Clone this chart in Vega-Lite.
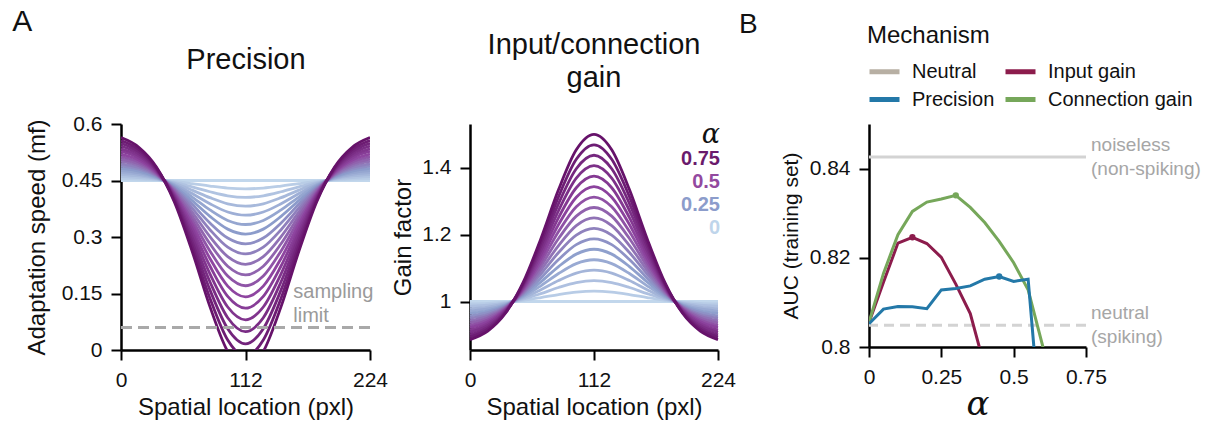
{
"$schema": "https://vega.github.io/schema/vega-lite/v6.json",
"background": "white",
"padding": {"left": 12, "top": 7, "right": 0, "bottom": 0},
"spacing": 3,
"resolve": {"scale": {"color": "independent", "x": "independent", "y": "independent"}, "legend": {"color": "independent"}},
"datasets": {
"prec": [
{"a":0,"x":0,"y":0.45},{"a":0,"x":16,"y":0.45},{"a":0,"x":32,"y":0.45},{"a":0,"x":48,"y":0.45},{"a":0,"x":64,"y":0.45},{"a":0,"x":80,"y":0.45},{"a":0,"x":96,"y":0.45},{"a":0,"x":112,"y":0.45},{"a":0,"x":128,"y":0.45},{"a":0,"x":144,"y":0.45},{"a":0,"x":160,"y":0.45},{"a":0,"x":176,"y":0.45},{"a":0,"x":192,"y":0.45},{"a":0,"x":208,"y":0.45},{"a":0,"x":224,"y":0.45},
{"a":0.0417,"x":0,"y":0.455},{"a":0.0417,"x":16,"y":0.4539},{"a":0.0417,"x":32,"y":0.4516},{"a":0.0417,"x":48,"y":0.4475},{"a":0.0417,"x":64,"y":0.4417},{"a":0.0417,"x":80,"y":0.4353},{"a":0.0417,"x":96,"y":0.43},{"a":0.0417,"x":112,"y":0.428},{"a":0.0417,"x":128,"y":0.43},{"a":0.0417,"x":144,"y":0.4353},{"a":0.0417,"x":160,"y":0.4417},{"a":0.0417,"x":176,"y":0.4475},{"a":0.0417,"x":192,"y":0.4516},{"a":0.0417,"x":208,"y":0.4539},{"a":0.0417,"x":224,"y":0.455},
{"a":0.0833,"x":0,"y":0.4602},{"a":0.0833,"x":16,"y":0.4579},{"a":0.0833,"x":32,"y":0.4532},{"a":0.0833,"x":48,"y":0.4449},{"a":0.0833,"x":64,"y":0.4332},{"a":0.0833,"x":80,"y":0.4201},{"a":0.0833,"x":96,"y":0.4094},{"a":0.0833,"x":112,"y":0.4053},{"a":0.0833,"x":128,"y":0.4094},{"a":0.0833,"x":144,"y":0.4201},{"a":0.0833,"x":160,"y":0.4332},{"a":0.0833,"x":176,"y":0.4449},{"a":0.0833,"x":192,"y":0.4532},{"a":0.0833,"x":208,"y":0.4579},{"a":0.0833,"x":224,"y":0.4602},
{"a":0.125,"x":0,"y":0.4655},{"a":0.125,"x":16,"y":0.462},{"a":0.125,"x":32,"y":0.4548},{"a":0.125,"x":48,"y":0.4422},{"a":0.125,"x":64,"y":0.4244},{"a":0.125,"x":80,"y":0.4044},{"a":0.125,"x":96,"y":0.3882},{"a":0.125,"x":112,"y":0.3819},{"a":0.125,"x":128,"y":0.3882},{"a":0.125,"x":144,"y":0.4044},{"a":0.125,"x":160,"y":0.4244},{"a":0.125,"x":176,"y":0.4422},{"a":0.125,"x":192,"y":0.4548},{"a":0.125,"x":208,"y":0.462},{"a":0.125,"x":224,"y":0.4655},
{"a":0.1667,"x":0,"y":0.471},{"a":0.1667,"x":16,"y":0.4663},{"a":0.1667,"x":32,"y":0.4565},{"a":0.1667,"x":48,"y":0.4395},{"a":0.1667,"x":64,"y":0.4154},{"a":0.1667,"x":80,"y":0.3883},{"a":0.1667,"x":96,"y":0.3664},{"a":0.1667,"x":112,"y":0.3579},{"a":0.1667,"x":128,"y":0.3664},{"a":0.1667,"x":144,"y":0.3883},{"a":0.1667,"x":160,"y":0.4154},{"a":0.1667,"x":176,"y":0.4395},{"a":0.1667,"x":192,"y":0.4565},{"a":0.1667,"x":208,"y":0.4663},{"a":0.1667,"x":224,"y":0.471},
{"a":0.2083,"x":0,"y":0.4766},{"a":0.2083,"x":16,"y":0.4707},{"a":0.2083,"x":32,"y":0.4582},{"a":0.2083,"x":48,"y":0.4367},{"a":0.2083,"x":64,"y":0.4061},{"a":0.2083,"x":80,"y":0.3718},{"a":0.2083,"x":96,"y":0.344},{"a":0.2083,"x":112,"y":0.3332},{"a":0.2083,"x":128,"y":0.344},{"a":0.2083,"x":144,"y":0.3718},{"a":0.2083,"x":160,"y":0.4061},{"a":0.2083,"x":176,"y":0.4367},{"a":0.2083,"x":192,"y":0.4582},{"a":0.2083,"x":208,"y":0.4707},{"a":0.2083,"x":224,"y":0.4766},
{"a":0.25,"x":0,"y":0.4824},{"a":0.25,"x":16,"y":0.4751},{"a":0.25,"x":32,"y":0.46},{"a":0.25,"x":48,"y":0.4338},{"a":0.25,"x":64,"y":0.3965},{"a":0.25,"x":80,"y":0.3548},{"a":0.25,"x":96,"y":0.3209},{"a":0.25,"x":112,"y":0.3078},{"a":0.25,"x":128,"y":0.3209},{"a":0.25,"x":144,"y":0.3548},{"a":0.25,"x":160,"y":0.3965},{"a":0.25,"x":176,"y":0.4338},{"a":0.25,"x":192,"y":0.46},{"a":0.25,"x":208,"y":0.4751},{"a":0.25,"x":224,"y":0.4824},
{"a":0.2917,"x":0,"y":0.4883},{"a":0.2917,"x":16,"y":0.4798},{"a":0.2917,"x":32,"y":0.4619},{"a":0.2917,"x":48,"y":0.4308},{"a":0.2917,"x":64,"y":0.3867},{"a":0.2917,"x":80,"y":0.3373},{"a":0.2917,"x":96,"y":0.2972},{"a":0.2917,"x":112,"y":0.2817},{"a":0.2917,"x":128,"y":0.2972},{"a":0.2917,"x":144,"y":0.3373},{"a":0.2917,"x":160,"y":0.3867},{"a":0.2917,"x":176,"y":0.4308},{"a":0.2917,"x":192,"y":0.4619},{"a":0.2917,"x":208,"y":0.4798},{"a":0.2917,"x":224,"y":0.4883},
{"a":0.3333,"x":0,"y":0.4944},{"a":0.3333,"x":16,"y":0.4845},{"a":0.3333,"x":32,"y":0.4637},{"a":0.3333,"x":48,"y":0.4278},{"a":0.3333,"x":64,"y":0.3767},{"a":0.3333,"x":80,"y":0.3194},{"a":0.3333,"x":96,"y":0.273},{"a":0.3333,"x":112,"y":0.255},{"a":0.3333,"x":128,"y":0.273},{"a":0.3333,"x":144,"y":0.3194},{"a":0.3333,"x":160,"y":0.3767},{"a":0.3333,"x":176,"y":0.4278},{"a":0.3333,"x":192,"y":0.4637},{"a":0.3333,"x":208,"y":0.4845},{"a":0.3333,"x":224,"y":0.4944},
{"a":0.375,"x":0,"y":0.5007},{"a":0.375,"x":16,"y":0.4893},{"a":0.375,"x":32,"y":0.4657},{"a":0.375,"x":48,"y":0.4246},{"a":0.375,"x":64,"y":0.3663},{"a":0.375,"x":80,"y":0.301},{"a":0.375,"x":96,"y":0.248},{"a":0.375,"x":112,"y":0.2275},{"a":0.375,"x":128,"y":0.248},{"a":0.375,"x":144,"y":0.301},{"a":0.375,"x":160,"y":0.3663},{"a":0.375,"x":176,"y":0.4246},{"a":0.375,"x":192,"y":0.4657},{"a":0.375,"x":208,"y":0.4893},{"a":0.375,"x":224,"y":0.5007},
{"a":0.4167,"x":0,"y":0.5071},{"a":0.4167,"x":16,"y":0.4943},{"a":0.4167,"x":32,"y":0.4677},{"a":0.4167,"x":48,"y":0.4214},{"a":0.4167,"x":64,"y":0.3558},{"a":0.4167,"x":80,"y":0.2822},{"a":0.4167,"x":96,"y":0.2225},{"a":0.4167,"x":112,"y":0.1994},{"a":0.4167,"x":128,"y":0.2225},{"a":0.4167,"x":144,"y":0.2822},{"a":0.4167,"x":160,"y":0.3558},{"a":0.4167,"x":176,"y":0.4214},{"a":0.4167,"x":192,"y":0.4677},{"a":0.4167,"x":208,"y":0.4943},{"a":0.4167,"x":224,"y":0.5071},
{"a":0.4583,"x":0,"y":0.5136},{"a":0.4583,"x":16,"y":0.4994},{"a":0.4583,"x":32,"y":0.4697},{"a":0.4583,"x":48,"y":0.4181},{"a":0.4583,"x":64,"y":0.3449},{"a":0.4583,"x":80,"y":0.2629},{"a":0.4583,"x":96,"y":0.1964},{"a":0.4583,"x":112,"y":0.1706},{"a":0.4583,"x":128,"y":0.1964},{"a":0.4583,"x":144,"y":0.2629},{"a":0.4583,"x":160,"y":0.3449},{"a":0.4583,"x":176,"y":0.4181},{"a":0.4583,"x":192,"y":0.4697},{"a":0.4583,"x":208,"y":0.4994},{"a":0.4583,"x":224,"y":0.5136},
{"a":0.5,"x":0,"y":0.5203},{"a":0.5,"x":16,"y":0.5046},{"a":0.5,"x":32,"y":0.4718},{"a":0.5,"x":48,"y":0.4148},{"a":0.5,"x":64,"y":0.3339},{"a":0.5,"x":80,"y":0.2431},{"a":0.5,"x":96,"y":0.1696},{"a":0.5,"x":112,"y":0.1411},{"a":0.5,"x":128,"y":0.1696},{"a":0.5,"x":144,"y":0.2431},{"a":0.5,"x":160,"y":0.3339},{"a":0.5,"x":176,"y":0.4148},{"a":0.5,"x":192,"y":0.4718},{"a":0.5,"x":208,"y":0.5046},{"a":0.5,"x":224,"y":0.5203},
{"a":0.5417,"x":0,"y":0.5272},{"a":0.5417,"x":16,"y":0.5099},{"a":0.5417,"x":32,"y":0.4739},{"a":0.5417,"x":48,"y":0.4113},{"a":0.5417,"x":64,"y":0.3225},{"a":0.5417,"x":80,"y":0.223},{"a":0.5417,"x":96,"y":0.1423},{"a":0.5417,"x":112,"y":0.111},{"a":0.5417,"x":128,"y":0.1423},{"a":0.5417,"x":144,"y":0.223},{"a":0.5417,"x":160,"y":0.3225},{"a":0.5417,"x":176,"y":0.4113},{"a":0.5417,"x":192,"y":0.4739},{"a":0.5417,"x":208,"y":0.5099},{"a":0.5417,"x":224,"y":0.5272},
{"a":0.5833,"x":0,"y":0.5342},{"a":0.5833,"x":16,"y":0.5154},{"a":0.5833,"x":32,"y":0.4761},{"a":0.5833,"x":48,"y":0.4078},{"a":0.5833,"x":64,"y":0.3109},{"a":0.5833,"x":80,"y":0.2023},{"a":0.5833,"x":96,"y":0.1142},{"a":0.5833,"x":112,"y":0.0801},{"a":0.5833,"x":128,"y":0.1142},{"a":0.5833,"x":144,"y":0.2023},{"a":0.5833,"x":160,"y":0.3109},{"a":0.5833,"x":176,"y":0.4078},{"a":0.5833,"x":192,"y":0.4761},{"a":0.5833,"x":208,"y":0.5154},{"a":0.5833,"x":224,"y":0.5342},
{"a":0.625,"x":0,"y":0.5414},{"a":0.625,"x":16,"y":0.521},{"a":0.625,"x":32,"y":0.4783},{"a":0.625,"x":48,"y":0.4042},{"a":0.625,"x":64,"y":0.2991},{"a":0.625,"x":80,"y":0.1812},{"a":0.625,"x":96,"y":0.0856},{"a":0.625,"x":112,"y":0.0486},{"a":0.625,"x":128,"y":0.0856},{"a":0.625,"x":144,"y":0.1812},{"a":0.625,"x":160,"y":0.2991},{"a":0.625,"x":176,"y":0.4042},{"a":0.625,"x":192,"y":0.4783},{"a":0.625,"x":208,"y":0.521},{"a":0.625,"x":224,"y":0.5414},
{"a":0.6667,"x":0,"y":0.5487},{"a":0.6667,"x":16,"y":0.5267},{"a":0.6667,"x":32,"y":0.4806},{"a":0.6667,"x":48,"y":0.4005},{"a":0.6667,"x":64,"y":0.287},{"a":0.6667,"x":80,"y":0.1596},{"a":0.6667,"x":96,"y":0.0564},{"a":0.6667,"x":112,"y":0.0164},{"a":0.6667,"x":128,"y":0.0564},{"a":0.6667,"x":144,"y":0.1596},{"a":0.6667,"x":160,"y":0.287},{"a":0.6667,"x":176,"y":0.4005},{"a":0.6667,"x":192,"y":0.4806},{"a":0.6667,"x":208,"y":0.5267},{"a":0.6667,"x":224,"y":0.5487},
{"a":0.7083,"x":0,"y":0.5562},{"a":0.7083,"x":16,"y":0.5325},{"a":0.7083,"x":32,"y":0.4829},{"a":0.7083,"x":48,"y":0.3968},{"a":0.7083,"x":64,"y":0.2746},{"a":0.7083,"x":80,"y":0.1376},{"a":0.7083,"x":96,"y":0.0265},{"a":0.7083,"x":112,"y":-0.0165},{"a":0.7083,"x":128,"y":0.0265},{"a":0.7083,"x":144,"y":0.1376},{"a":0.7083,"x":160,"y":0.2746},{"a":0.7083,"x":176,"y":0.3968},{"a":0.7083,"x":192,"y":0.4829},{"a":0.7083,"x":208,"y":0.5325},{"a":0.7083,"x":224,"y":0.5562},
{"a":0.75,"x":0,"y":0.5639},{"a":0.75,"x":16,"y":0.5384},{"a":0.75,"x":32,"y":0.4853},{"a":0.75,"x":48,"y":0.393},{"a":0.75,"x":64,"y":0.262},{"a":0.75,"x":80,"y":0.1152},{"a":0.75,"x":96,"y":-0.0039},{"a":0.75,"x":112,"y":-0.05},{"a":0.75,"x":128,"y":-0.0039},{"a":0.75,"x":144,"y":0.1152},{"a":0.75,"x":160,"y":0.262},{"a":0.75,"x":176,"y":0.393},{"a":0.75,"x":192,"y":0.4853},{"a":0.75,"x":208,"y":0.5384},{"a":0.75,"x":224,"y":0.5639}
],
"gain": [
{"a":0,"x":0,"y":1},{"a":0,"x":16,"y":1},{"a":0,"x":32,"y":1},{"a":0,"x":48,"y":1},{"a":0,"x":64,"y":1},{"a":0,"x":80,"y":1},{"a":0,"x":96,"y":1},{"a":0,"x":112,"y":1},{"a":0,"x":128,"y":1},{"a":0,"x":144,"y":1},{"a":0,"x":160,"y":1},{"a":0,"x":176,"y":1},{"a":0,"x":192,"y":1},{"a":0,"x":208,"y":1},{"a":0,"x":224,"y":1},
{"a":0.0469,"x":0,"y":0.9929},{"a":0.0469,"x":16,"y":0.9945},{"a":0.0469,"x":32,"y":0.9978},{"a":0.0469,"x":48,"y":1.0036},{"a":0.0469,"x":64,"y":1.0118},{"a":0.0469,"x":80,"y":1.0209},{"a":0.0469,"x":96,"y":1.0284},{"a":0.0469,"x":112,"y":1.0313},{"a":0.0469,"x":128,"y":1.0284},{"a":0.0469,"x":144,"y":1.0209},{"a":0.0469,"x":160,"y":1.0118},{"a":0.0469,"x":176,"y":1.0036},{"a":0.0469,"x":192,"y":0.9978},{"a":0.0469,"x":208,"y":0.9945},{"a":0.0469,"x":224,"y":0.9929},
{"a":0.0938,"x":0,"y":0.9858},{"a":0.0938,"x":16,"y":0.989},{"a":0.0938,"x":32,"y":0.9956},{"a":0.0938,"x":48,"y":1.0071},{"a":0.0938,"x":64,"y":1.0235},{"a":0.0938,"x":80,"y":1.0419},{"a":0.0938,"x":96,"y":1.0567},{"a":0.0938,"x":112,"y":1.0625},{"a":0.0938,"x":128,"y":1.0567},{"a":0.0938,"x":144,"y":1.0419},{"a":0.0938,"x":160,"y":1.0235},{"a":0.0938,"x":176,"y":1.0071},{"a":0.0938,"x":192,"y":0.9956},{"a":0.0938,"x":208,"y":0.989},{"a":0.0938,"x":224,"y":0.9858},
{"a":0.1406,"x":0,"y":0.9787},{"a":0.1406,"x":16,"y":0.9834},{"a":0.1406,"x":32,"y":0.9934},{"a":0.1406,"x":48,"y":1.0107},{"a":0.1406,"x":64,"y":1.0353},{"a":0.1406,"x":80,"y":1.0628},{"a":0.1406,"x":96,"y":1.0851},{"a":0.1406,"x":112,"y":1.0938},{"a":0.1406,"x":128,"y":1.0851},{"a":0.1406,"x":144,"y":1.0628},{"a":0.1406,"x":160,"y":1.0353},{"a":0.1406,"x":176,"y":1.0107},{"a":0.1406,"x":192,"y":0.9934},{"a":0.1406,"x":208,"y":0.9834},{"a":0.1406,"x":224,"y":0.9787},
{"a":0.1875,"x":0,"y":0.9715},{"a":0.1875,"x":16,"y":0.9779},{"a":0.1875,"x":32,"y":0.9912},{"a":0.1875,"x":48,"y":1.0143},{"a":0.1875,"x":64,"y":1.047},{"a":0.1875,"x":80,"y":1.0837},{"a":0.1875,"x":96,"y":1.1135},{"a":0.1875,"x":112,"y":1.125},{"a":0.1875,"x":128,"y":1.1135},{"a":0.1875,"x":144,"y":1.0837},{"a":0.1875,"x":160,"y":1.047},{"a":0.1875,"x":176,"y":1.0143},{"a":0.1875,"x":192,"y":0.9912},{"a":0.1875,"x":208,"y":0.9779},{"a":0.1875,"x":224,"y":0.9715},
{"a":0.2344,"x":0,"y":0.9644},{"a":0.2344,"x":16,"y":0.9724},{"a":0.2344,"x":32,"y":0.989},{"a":0.2344,"x":48,"y":1.0178},{"a":0.2344,"x":64,"y":1.0588},{"a":0.2344,"x":80,"y":1.1046},{"a":0.2344,"x":96,"y":1.1418},{"a":0.2344,"x":112,"y":1.1563},{"a":0.2344,"x":128,"y":1.1418},{"a":0.2344,"x":144,"y":1.1046},{"a":0.2344,"x":160,"y":1.0588},{"a":0.2344,"x":176,"y":1.0178},{"a":0.2344,"x":192,"y":0.989},{"a":0.2344,"x":208,"y":0.9724},{"a":0.2344,"x":224,"y":0.9644},
{"a":0.2813,"x":0,"y":0.9573},{"a":0.2813,"x":16,"y":0.9669},{"a":0.2813,"x":32,"y":0.9868},{"a":0.2813,"x":48,"y":1.0214},{"a":0.2813,"x":64,"y":1.0705},{"a":0.2813,"x":80,"y":1.1256},{"a":0.2813,"x":96,"y":1.1702},{"a":0.2813,"x":112,"y":1.1875},{"a":0.2813,"x":128,"y":1.1702},{"a":0.2813,"x":144,"y":1.1256},{"a":0.2813,"x":160,"y":1.0705},{"a":0.2813,"x":176,"y":1.0214},{"a":0.2813,"x":192,"y":0.9868},{"a":0.2813,"x":208,"y":0.9669},{"a":0.2813,"x":224,"y":0.9573},
{"a":0.3281,"x":0,"y":0.9502},{"a":0.3281,"x":16,"y":0.9613},{"a":0.3281,"x":32,"y":0.9846},{"a":0.3281,"x":48,"y":1.025},{"a":0.3281,"x":64,"y":1.0823},{"a":0.3281,"x":80,"y":1.1465},{"a":0.3281,"x":96,"y":1.1986},{"a":0.3281,"x":112,"y":1.2188},{"a":0.3281,"x":128,"y":1.1986},{"a":0.3281,"x":144,"y":1.1465},{"a":0.3281,"x":160,"y":1.0823},{"a":0.3281,"x":176,"y":1.025},{"a":0.3281,"x":192,"y":0.9846},{"a":0.3281,"x":208,"y":0.9613},{"a":0.3281,"x":224,"y":0.9502},
{"a":0.375,"x":0,"y":0.9431},{"a":0.375,"x":16,"y":0.9558},{"a":0.375,"x":32,"y":0.9824},{"a":0.375,"x":48,"y":1.0285},{"a":0.375,"x":64,"y":1.094},{"a":0.375,"x":80,"y":1.1674},{"a":0.375,"x":96,"y":1.227},{"a":0.375,"x":112,"y":1.25},{"a":0.375,"x":128,"y":1.227},{"a":0.375,"x":144,"y":1.1674},{"a":0.375,"x":160,"y":1.094},{"a":0.375,"x":176,"y":1.0285},{"a":0.375,"x":192,"y":0.9824},{"a":0.375,"x":208,"y":0.9558},{"a":0.375,"x":224,"y":0.9431},
{"a":0.4219,"x":0,"y":0.936},{"a":0.4219,"x":16,"y":0.9503},{"a":0.4219,"x":32,"y":0.9802},{"a":0.4219,"x":48,"y":1.0321},{"a":0.4219,"x":64,"y":1.1058},{"a":0.4219,"x":80,"y":1.1884},{"a":0.4219,"x":96,"y":1.2553},{"a":0.4219,"x":112,"y":1.2813},{"a":0.4219,"x":128,"y":1.2553},{"a":0.4219,"x":144,"y":1.1884},{"a":0.4219,"x":160,"y":1.1058},{"a":0.4219,"x":176,"y":1.0321},{"a":0.4219,"x":192,"y":0.9802},{"a":0.4219,"x":208,"y":0.9503},{"a":0.4219,"x":224,"y":0.936},
{"a":0.4688,"x":0,"y":0.9288},{"a":0.4688,"x":16,"y":0.9448},{"a":0.4688,"x":32,"y":0.978},{"a":0.4688,"x":48,"y":1.0357},{"a":0.4688,"x":64,"y":1.1175},{"a":0.4688,"x":80,"y":1.2093},{"a":0.4688,"x":96,"y":1.2837},{"a":0.4688,"x":112,"y":1.3125},{"a":0.4688,"x":128,"y":1.2837},{"a":0.4688,"x":144,"y":1.2093},{"a":0.4688,"x":160,"y":1.1175},{"a":0.4688,"x":176,"y":1.0357},{"a":0.4688,"x":192,"y":0.978},{"a":0.4688,"x":208,"y":0.9448},{"a":0.4688,"x":224,"y":0.9288},
{"a":0.5156,"x":0,"y":0.9217},{"a":0.5156,"x":16,"y":0.9392},{"a":0.5156,"x":32,"y":0.9758},{"a":0.5156,"x":48,"y":1.0392},{"a":0.5156,"x":64,"y":1.1293},{"a":0.5156,"x":80,"y":1.2302},{"a":0.5156,"x":96,"y":1.3121},{"a":0.5156,"x":112,"y":1.3438},{"a":0.5156,"x":128,"y":1.3121},{"a":0.5156,"x":144,"y":1.2302},{"a":0.5156,"x":160,"y":1.1293},{"a":0.5156,"x":176,"y":1.0392},{"a":0.5156,"x":192,"y":0.9758},{"a":0.5156,"x":208,"y":0.9392},{"a":0.5156,"x":224,"y":0.9217},
{"a":0.5625,"x":0,"y":0.9146},{"a":0.5625,"x":16,"y":0.9337},{"a":0.5625,"x":32,"y":0.9736},{"a":0.5625,"x":48,"y":1.0428},{"a":0.5625,"x":64,"y":1.141},{"a":0.5625,"x":80,"y":1.2511},{"a":0.5625,"x":96,"y":1.3404},{"a":0.5625,"x":112,"y":1.375},{"a":0.5625,"x":128,"y":1.3404},{"a":0.5625,"x":144,"y":1.2511},{"a":0.5625,"x":160,"y":1.141},{"a":0.5625,"x":176,"y":1.0428},{"a":0.5625,"x":192,"y":0.9736},{"a":0.5625,"x":208,"y":0.9337},{"a":0.5625,"x":224,"y":0.9146},
{"a":0.6094,"x":0,"y":0.9075},{"a":0.6094,"x":16,"y":0.9282},{"a":0.6094,"x":32,"y":0.9714},{"a":0.6094,"x":48,"y":1.0464},{"a":0.6094,"x":64,"y":1.1528},{"a":0.6094,"x":80,"y":1.2721},{"a":0.6094,"x":96,"y":1.3688},{"a":0.6094,"x":112,"y":1.4063},{"a":0.6094,"x":128,"y":1.3688},{"a":0.6094,"x":144,"y":1.2721},{"a":0.6094,"x":160,"y":1.1528},{"a":0.6094,"x":176,"y":1.0464},{"a":0.6094,"x":192,"y":0.9714},{"a":0.6094,"x":208,"y":0.9282},{"a":0.6094,"x":224,"y":0.9075},
{"a":0.6563,"x":0,"y":0.9004},{"a":0.6563,"x":16,"y":0.9227},{"a":0.6563,"x":32,"y":0.9692},{"a":0.6563,"x":48,"y":1.0499},{"a":0.6563,"x":64,"y":1.1645},{"a":0.6563,"x":80,"y":1.293},{"a":0.6563,"x":96,"y":1.3972},{"a":0.6563,"x":112,"y":1.4375},{"a":0.6563,"x":128,"y":1.3972},{"a":0.6563,"x":144,"y":1.293},{"a":0.6563,"x":160,"y":1.1645},{"a":0.6563,"x":176,"y":1.0499},{"a":0.6563,"x":192,"y":0.9692},{"a":0.6563,"x":208,"y":0.9227},{"a":0.6563,"x":224,"y":0.9004},
{"a":0.7031,"x":0,"y":0.8933},{"a":0.7031,"x":16,"y":0.9171},{"a":0.7031,"x":32,"y":0.967},{"a":0.7031,"x":48,"y":1.0535},{"a":0.7031,"x":64,"y":1.1763},{"a":0.7031,"x":80,"y":1.3139},{"a":0.7031,"x":96,"y":1.4255},{"a":0.7031,"x":112,"y":1.4688},{"a":0.7031,"x":128,"y":1.4255},{"a":0.7031,"x":144,"y":1.3139},{"a":0.7031,"x":160,"y":1.1763},{"a":0.7031,"x":176,"y":1.0535},{"a":0.7031,"x":192,"y":0.967},{"a":0.7031,"x":208,"y":0.9171},{"a":0.7031,"x":224,"y":0.8933},
{"a":0.75,"x":0,"y":0.8862},{"a":0.75,"x":16,"y":0.9116},{"a":0.75,"x":32,"y":0.9648},{"a":0.75,"x":48,"y":1.0571},{"a":0.75,"x":64,"y":1.188},{"a":0.75,"x":80,"y":1.3349},{"a":0.75,"x":96,"y":1.4539},{"a":0.75,"x":112,"y":1.5},{"a":0.75,"x":128,"y":1.4539},{"a":0.75,"x":144,"y":1.3349},{"a":0.75,"x":160,"y":1.188},{"a":0.75,"x":176,"y":1.0571},{"a":0.75,"x":192,"y":0.9648},{"a":0.75,"x":208,"y":0.9116},{"a":0.75,"x":224,"y":0.8862}
],
"limit": [{"v": 0.06, "label": "sampling\nlimit"}],
"refs": [{"kind": "noiseless", "v": 0.8426, "label": "noiseless\n(non-spiking)"}, {"kind": "neutral", "v": 0.8049, "label": "neutral\n(spiking)"}],
"auc": [
{"m":"Input gain","a":0,"v":0.8055},{"m":"Input gain","a":0.05,"v":0.8145},{"m":"Input gain","a":0.1,"v":0.8233},{"m":"Input gain","a":0.15,"v":0.8246},{"m":"Input gain","a":0.2,"v":0.8232},{"m":"Input gain","a":0.25,"v":0.8201},{"m":"Input gain","a":0.3,"v":0.8141},{"m":"Input gain","a":0.35,"v":0.8075},{"m":"Input gain","a":0.4,"v":0.7955},
{"m":"Connection gain","a":0,"v":0.8055},{"m":"Connection gain","a":0.05,"v":0.8165},{"m":"Connection gain","a":0.1,"v":0.8252},{"m":"Connection gain","a":0.15,"v":0.8304},{"m":"Connection gain","a":0.2,"v":0.8325},{"m":"Connection gain","a":0.25,"v":0.8332},{"m":"Connection gain","a":0.3,"v":0.834},{"m":"Connection gain","a":0.35,"v":0.8313},{"m":"Connection gain","a":0.4,"v":0.8279},{"m":"Connection gain","a":0.45,"v":0.8237},{"m":"Connection gain","a":0.5,"v":0.8189},{"m":"Connection gain","a":0.55,"v":0.8128},{"m":"Connection gain","a":0.6,"v":0.8003},{"m":"Connection gain","a":0.65,"v":0.785},
{"m":"Precision","a":0,"v":0.8052},{"m":"Precision","a":0.05,"v":0.8085},{"m":"Precision","a":0.1,"v":0.8091},{"m":"Precision","a":0.15,"v":0.809},{"m":"Precision","a":0.2,"v":0.8086},{"m":"Precision","a":0.25,"v":0.8128},{"m":"Precision","a":0.3,"v":0.8131},{"m":"Precision","a":0.35,"v":0.8137},{"m":"Precision","a":0.4,"v":0.8152},{"m":"Precision","a":0.45,"v":0.8158},{"m":"Precision","a":0.5,"v":0.8147},{"m":"Precision","a":0.55,"v":0.8152},{"m":"Precision","a":0.6,"v":0.777}
]
},
"hconcat": [
{
"width": 249, "height": 226,
"title": {"text": "A", "anchor": "start", "frame": "bounds", "fontSize": 30, "fontWeight": "normal", "color": "#111", "dx": -13, "dy": 22, "offset": 0, "baseline": "bottom"},
"resolve": {"axis": {"x": "independent"}},
"layer": [
{"data": {"name": "prec"}, "mark": {"type": "line", "interpolate": "monotone", "strokeWidth": 2.8, "clip": true},
 "encoding": {
  "x": {"field": "x", "type": "quantitative", "scale": {"domain": [0, 224], "nice": false}, "axis": {"orient": "bottom", "values": [0, 112, 224], "title": "Spatial location (pxl)", "titlePadding": 5}},
  "y": {"field": "y", "type": "quantitative", "scale": {"domain": [0, 0.6], "nice": false, "zero": false}, "axis": {"values": [0, 0.15, 0.3, 0.45, 0.6], "format": ".2~f", "title": "Adaptation speed (mf)", "titlePadding": 12}},
  "color": {"field": "a", "type": "quantitative", "scale": {"domain": [0, 0.25, 0.5, 0.75], "range": ["#c2d7ec", "#8c9ccb", "#8e45a0", "#66126a"], "interpolate": "lab"}, "legend": null}
 }},
{"data": {"name": "limit"}, "mark": {"type": "rule", "color": "#a9a9a9", "strokeWidth": 3, "strokeDash": [11, 6]},
 "encoding": {"y": {"field": "v", "type": "quantitative"}}},
{"data": {"name": "limit"}, "mark": {"type": "text", "align": "left", "baseline": "bottom", "dy": -25, "fontSize": 20, "color": "#9a9a9a", "lineBreak": "\n", "lineHeight": 24},
 "encoding": {"x": {"datum": 155, "type": "quantitative", "axis": {"orient": "top", "title": "Precision", "domain": false, "ticks": false, "labels": false, "titleFontSize": 29, "titleFontWeight": "normal", "titleColor": "#111", "titlePadding": 50}}, "y": {"field": "v", "type": "quantitative"}, "text": {"field": "label"}}}
]
},
{
"width": 248, "height": 226,
"title": {"text": "Input/connection", "subtitle": "gain", "fontSize": 29, "fontWeight": "normal", "baseline": "bottom", "offset": 0, "color": "#111", "subtitleFontSize": 29, "subtitleColor": "#111", "subtitleFont": "Liberation Sans", "subtitlePadding": 4},
"data": {"name": "gain"},
"mark": {"type": "line", "interpolate": "monotone", "strokeWidth": 2.8},
"encoding": {
 "x": {"field": "x", "type": "quantitative", "scale": {"domain": [0, 224], "nice": false}, "axis": {"values": [0, 112, 224], "title": "Spatial location (pxl)", "titlePadding": 5}},
 "y": {"field": "y", "type": "quantitative", "scale": {"domain": [0.855, 1.531], "nice": false, "zero": false}, "axis": {"values": [1, 1.2, 1.4], "format": ".1~f", "title": "Gain factor", "titlePadding": 6}},
 "color": {"field": "a", "type": "quantitative", "scale": {"domain": [0, 0.25, 0.5, 0.75], "range": ["#c2d7ec", "#8c9ccb", "#8e45a0", "#66126a"], "interpolate": "lab"},
  "legend": {"type": "symbol", "values": [0.75, 0.5, 0.25, 0], "format": ".2~f", "orient": "top-right", "offset": -2, "title": "α", "titleFont": "DejaVu Serif", "titleFontStyle": "italic", "titleFontSize": 27, "titleFontWeight": "normal", "titleAnchor": "end", "titleColor": "#111", "titlePadding": 0, "labelFontSize": 20, "labelFontWeight": "bold", "labelAlign": "right", "labelOffset": 0, "symbolSize": 0, "symbolOpacity": 0, "symbolStrokeWidth": 0, "rowPadding": 3,
   "encode": {"labels": {"update": {"fill": {"signal": "datum.value > 0.6 ? '#6a1a6c' : datum.value > 0.4 ? '#93499f' : datum.value > 0.1 ? '#8c9ccb' : '#bfd5eb'"}}}}}}
}
},
{
"width": 217, "height": 223,
"title": {"text": "B", "anchor": "start", "frame": "group", "fontSize": 28, "fontWeight": "normal", "color": "#111", "dx": -130, "dy": 26, "offset": -17, "baseline": "bottom"},
"layer": [
{"data": {"name": "refs"}, "mark": {"type": "rule", "color": "#d3d3d3", "strokeWidth": 3},
 "encoding": {"y": {"field": "v", "type": "quantitative"}, "strokeDash": {"field": "kind", "type": "nominal", "scale": {"domain": ["noiseless", "neutral"], "range": [[1, 0], [10, 6]]}, "legend": null}}},
{"data": {"name": "refs"}, "mark": {"type": "text", "align": "left", "baseline": "middle", "dx": 5, "dy": -12, "fontSize": 19, "color": "#a6a6a6", "lineBreak": "\n", "lineHeight": 24},
 "encoding": {"x": {"datum": 0.75, "type": "quantitative"}, "y": {"field": "v", "type": "quantitative"}, "text": {"field": "label"}}},
{"data": {"name": "auc"}, "mark": {"type": "line", "strokeWidth": 3, "clip": true},
 "encoding": {
  "x": {"field": "a", "type": "quantitative", "scale": {"domain": [0, 0.75], "nice": false}, "axis": {"values": [0, 0.25, 0.5, 0.75], "format": ".2~f", "title": "α", "titleFont": "DejaVu Serif", "titleFontStyle": "italic", "titleFontSize": 34, "titlePadding": 0}},
  "y": {"field": "v", "type": "quantitative", "scale": {"domain": [0.8, 0.85], "nice": false, "zero": false}, "axis": {"values": [0.8, 0.82, 0.84], "format": ".2~f", "title": "AUC (training set)", "titleFontSize": 21, "titlePadding": 8}},
  "color": {"field": "m", "type": "nominal", "scale": {"domain": ["Neutral", "Precision", "Input gain", "Connection gain"], "range": ["#b7afa3", "#2378a8", "#8c1c4c", "#76a75a"]},
   "legend": {"title": "Mechanism", "orient": "none", "legendX": -2, "legendY": -100, "columns": 2, "symbolType": "stroke", "symbolStrokeWidth": 5, "symbolSize": 900, "titleFontSize": 24, "titleFontWeight": "normal", "titleColor": "#111", "titlePadding": 6, "labelFontSize": 20, "labelColor": "#111", "labelOffset": 10, "columnPadding": 0, "rowPadding": 0}},
  "order": {"field": "a", "type": "quantitative"}
 }},
{"data": {"name": "auc"},
 "transform": [{"joinaggregate": [{"op": "max", "field": "v", "as": "vmax"}], "groupby": ["m"]}, {"filter": "datum.v == datum.vmax"}],
 "mark": {"type": "circle", "size": 40, "opacity": 1},
 "encoding": {"x": {"field": "a", "type": "quantitative"}, "y": {"field": "v", "type": "quantitative"}, "color": {"field": "m", "type": "nominal"}}}
]
}
],
"config": {
 "font": "Liberation Sans",
 "view": {"stroke": null},
 "axis": {"domainColor": "#000", "domainWidth": 2.5, "tickColor": "#000", "tickWidth": 2, "tickSize": 10, "labelFontSize": 21, "labelColor": "#111", "labelPadding": 9, "labelFlush": false, "labelOverlap": false, "titleFontSize": 24, "titleFontWeight": "normal", "titleColor": "#111", "grid": false}
}
}
